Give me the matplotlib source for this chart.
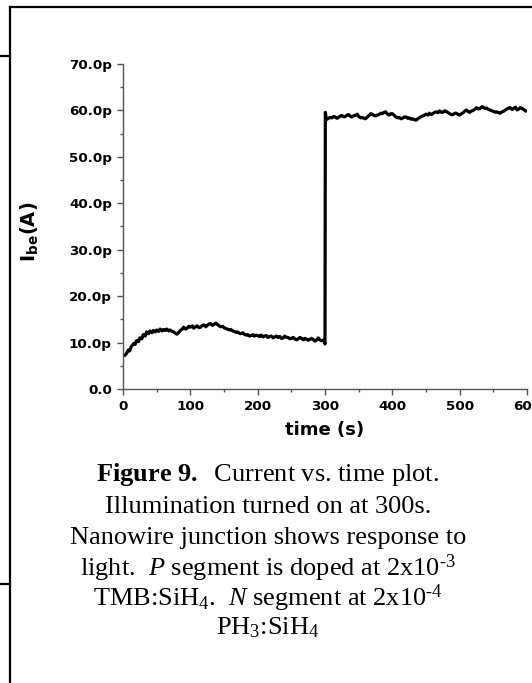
import numpy as np
import matplotlib
matplotlib.use('Agg')
import matplotlib.pyplot as plt
from matplotlib.lines import Line2D

#data (time in s, current in pA)
t_dark=[3,5,8,10,12,14,16,18,20,23,25,28,30,33,35,38,40,43,45,48,50,53,55,58,60,63,65,68,70,73,75,78,80,83,85,88,90,93,95,98,
        100,103,105,108,110,113,115,118,120,123,125,128,130,133,135,138,140,143,145,148,150,153,155,158,160,163,165,168,170,
        173,175,178,180,183,185,188,190,193,195,198,200,203,205,208,210,213,215,218,220,223,225,228,230,233,235,238,240,243,
        245,248,250,253,255,258,260,263,265,268,270,273,275,278,280,283,285,288,290,293,295,298,300]
i_dark=[7.3,7.6,8.4,8.2,9.1,9.4,9.8,9.6,10.4,10.2,11.0,10.8,11.7,11.4,12.3,11.9,12.5,12.1,12.6,12.3,12.7,12.4,12.9,12.5,12.8,12.6,12.9,12.5,12.7,12.4,12.3,12.0,11.8,12.2,12.6,12.9,13.3,12.9,13.1,13.5,
        13.3,13.6,13.1,13.4,13.6,13.2,13.3,13.7,13.8,13.4,13.7,14.0,14.1,13.7,13.9,14.2,13.9,13.6,13.4,13.5,13.2,13.0,12.9,12.7,12.8,12.5,12.4,12.2,12.3,
        12.0,11.9,12.1,11.8,11.6,11.7,11.4,11.5,11.7,11.4,11.6,11.5,11.3,11.6,11.2,11.4,11.5,11.1,11.3,11.4,11.0,11.2,11.4,11.1,11.3,10.9,11.0,11.4,11.1,
        11.1,10.8,10.9,11.1,10.8,10.6,10.8,11.1,10.9,10.6,10.9,10.7,10.5,10.7,10.9,10.6,10.3,10.6,11.0,10.5,10.4,10.5,9.7]
t_light=[300.5,302,305,308,310,313,315,318,320,323,325,328,330,333,335,338,340,343,345,348,350,353,355,358,360,363,365,368,370,373,375,378,
         380,383,385,388,390,393,395,398,400,403,405,408,410,413,415,418,420,423,425,428,430,433,435,438,440,443,445,448,450,453,455,458,
         460,463,465,468,470,473,475,478,480,483,485,488,490,493,495,498,500,503,505,508,510,513,515,518,520,523,525,528,530,533,535,538,
         540,543,545,548,550,553,555,558,560,563,565,568,570,573,575,578,580,583,585,588,590,593,595,598]
i_light=[59.6,58.0,58.3,58.5,58.4,58.7,58.6,58.3,58.5,58.8,58.9,58.6,58.7,59.0,59.1,58.7,58.6,58.9,58.9,59.2,58.7,58.4,58.5,58.3,58.2,58.6,58.9,59.3,59.2,58.9,58.8,59.0,
         59.1,59.4,59.3,59.6,59.7,59.2,59.0,59.3,59.3,58.9,58.6,58.4,58.5,58.2,58.3,58.6,58.6,58.3,58.4,58.1,58.2,58.0,57.9,58.2,58.4,58.7,58.8,59.0,59.2,59.0,59.4,59.1,
         59.3,59.6,59.7,59.5,59.9,59.6,59.6,59.9,59.8,59.5,59.3,59.1,59.1,59.4,59.4,59.1,59.0,59.3,59.5,59.9,60.1,59.7,59.6,59.9,60.0,60.3,60.6,60.3,60.4,60.8,60.7,60.4,
         60.5,60.2,60.1,59.9,59.8,59.6,59.7,59.5,59.4,59.7,59.8,60.1,60.3,60.5,60.6,60.2,60.4,60.7,60.1,60.3,60.6,60.4,60.2,59.9]

x_ticks=[0,100,200,300,400,500,600]
y_ticks=[0,10,20,30,40,50,60,70]
y_tick_labels=['0.0','10.0p','20.0p','30.0p','40.0p','50.0p','60.0p','70.0p']

caption=[r'$\bf{Figure\ 9.}$  Current vs. time plot.',
         'Illumination turned on at 300s.',
         'Nanowire junction shows response to',
         r'light.  $\it{P}$ segment is doped at 2x10$^{\text{-3}}$',
         r'TMB:SiH$_4$.  $\it{N}$ segment at 2x10$^{\text{-4}}$',
         r'PH$_3$:SiH$_4$']

plt.rcParams['mathtext.fontset']='custom'
plt.rcParams['mathtext.rm']='Liberation Serif'
plt.rcParams['mathtext.it']='Liberation Serif:italic'
plt.rcParams['mathtext.bf']='Liberation Serif:bold'

fig=plt.figure(figsize=(5.32,6.83),dpi=100)
ax=fig.add_axes([0.2312,0.4305,0.7594,0.4758])

t=np.array(t_dark+t_light)
cur=np.array(i_dark+i_light)
ax.plot(t,cur,color='black',lw=2.3)

ax.set_xlim(0,600)
ax.set_ylim(0,70)
ax.set_xticks(x_ticks)
ax.set_xticklabels([str(v) for v in x_ticks])
ax.set_xticks([50,150,250,350,450,550],minor=True)
ax.set_yticks(y_ticks)
ax.set_yticklabels(y_tick_labels)
ax.set_yticks([5,15,25,35,45,55,65],minor=True)
for s in ['top','right']:
    ax.spines[s].set_visible(False)
for s in ['left','bottom']:
    ax.spines[s].set_color('#555555')
    ax.spines[s].set_linewidth(1.0)
ax.tick_params(which='major',length=4,width=1,color='#555555',direction='out',pad=4)
ax.tick_params(which='minor',length=2.5,width=1,color='#555555',direction='out')
for lab in ax.get_xticklabels()+ax.get_yticklabels():
    lab.set_fontfamily('DejaVu Sans')
    lab.set_fontweight('bold')
    lab.set_fontsize(9.7)

ax.set_xlabel('time (s)',fontsize=13,fontweight='bold',family='DejaVu Sans',labelpad=6)
fig.text(30/532,1-232/683,r'$\mathbf{I_{be}(A)}$',rotation=90,ha='center',va='center',
         fontsize=14,family='DejaVu Sans',math_fontfamily='dejavusans')

#caption lines
ys=[475,507,538,568,598,628]
for s,y in zip(caption,ys):
    fig.text(268/532,1-y/683,s,ha='center',va='center',fontsize=19,family='Liberation Serif')

#page frame lines
fx=10/532
fig.add_artist(Line2D([fx,fx],[0,1-7/683],color='black',lw=1.6))
fig.add_artist(Line2D([fx,1],[1-7/683,1-7/683],color='black',lw=1.6))
fig.add_artist(Line2D([0,fx],[1-56/683,1-56/683],color='black',lw=1.6))
fig.add_artist(Line2D([0,fx],[1-584/683,1-584/683],color='black',lw=1.6))

fig.savefig('out.png',dpi=100)
